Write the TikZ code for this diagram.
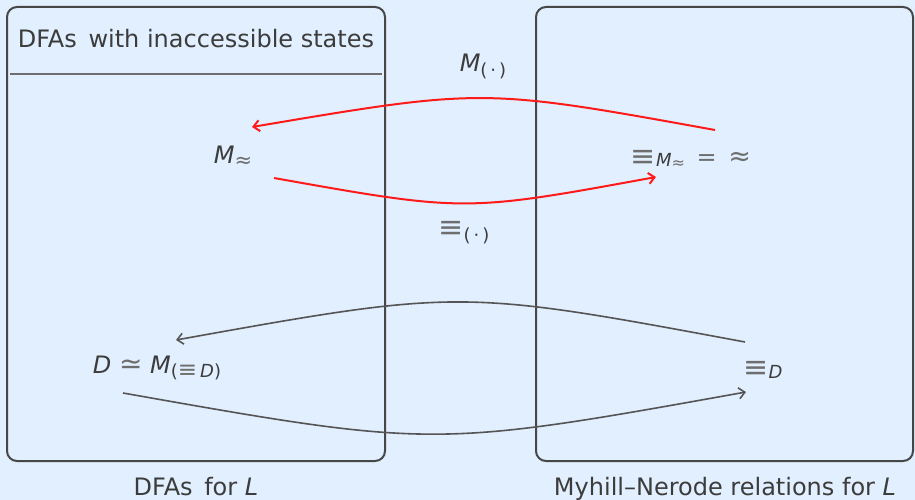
\documentclass[tikz,border=0pt]{standalone}
\usepackage{fontspec}
\setmainfont{DejaVu Sans}
\usetikzlibrary{arrows.meta}
\definecolor{bg}{HTML}{E1EFFE}
\definecolor{ink}{HTML}{3C3C3C}
\definecolor{rel}{HTML}{6E6E6E}
\definecolor{boxline}{HTML}{474747}
\definecolor{arrred}{HTML}{FF1A1A}
\definecolor{arrgray}{HTML}{555555}
\newcommand\mysub[2][-4pt]{\raisebox{#1}{\fontsize{18}{20}\selectfont #2}}
\newcommand\rl[1]{\textcolor{rel}{#1}}
\newcommand\bigeqv{\textcolor{rel}{\fontsize{30}{30}\selectfont ≡}}
\newcommand\subeqv{\textcolor{rel}{\fontsize{23}{23}\selectfont ≡}}
\newcommand\bigapx{\textcolor{rel}{\fontsize{27}{27}\selectfont ≈}}
\newcommand\subapx{\textcolor{rel}{\fontsize{21}{21}\selectfont ≈}}
\newcommand\bigsim{\textcolor{rel}{\fontsize{28}{28}\selectfont ≃}}
\begin{document}
\begin{tikzpicture}[x=1pt,y=-1pt,
  txt/.style={font=\fontsize{24}{28}\selectfont, text=ink, inner sep=0pt, anchor=base},
  panel/.style={draw=boxline, line width=2pt, rounded corners=10pt},
  redarr/.style={draw=arrred, line width=2pt, -{Straight Barb[length=6pt,width=11pt]}},
  grayarr/.style={draw=arrgray, line width=1.6pt, -{Straight Barb[length=6pt,width=11pt]}}]
\useasboundingbox (0,0) rectangle (915,500);
\fill[bg] (0,0) rectangle (915,500);
% panels
\draw[panel] (7,7) rectangle (385,461);
\draw[panel] (536,7) rectangle (913,461);
\draw[draw=rel, line width=1.2pt] (10,74) -- (382,74);
% texts
\node[txt] (title) at (196,48) {DFAs\, with inaccessible states};
\node[txt] (lblL) at (196,495) {DFAs\, for \textit{L}};
\node[txt] (lblR) at (725,495) {Myhill–Nerode relations for \textit{L}};
\node[txt] (mapprox) at (233,164) {\textit{M}\raisebox{-3pt}{\subapx}};
\node[txt] (eqm) at (691,165) {\raisebox{-1pt}{\bigeqv}\mysub[-1pt]{\textit{M}\raisebox{-2pt}{\fontsize{16}{16}\selectfont\rl{≈}}}\ \,\rl{=}\ \,\bigapx};
\node[txt] (dsim) at (157,373) {\textit{D}\ \bigsim\ \textit{M}\mysub{(\subeqv\,\textit{D})}};
\node[txt] (eqd) at (763,376) {\raisebox{-1pt}{\bigeqv}\mysub[-2pt]{\textit{D}}};
\node[txt] (lmtop) at (483,72) {\textit{M}\mysub[-5pt]{(\,·\,)}};
\node[txt] (lmbot) at (464,236) {\raisebox{-1pt}{\bigeqv}\mysub[-5pt]{(\,·\,)}};
% connector ends
\coordinate (a1) at (715,130);
\coordinate (a2) at (252,127);
\coordinate (b1) at (274,178);
\coordinate (b2) at (656,177);
\coordinate (c1) at (745,342);
\coordinate (c2) at (176,340);
\coordinate (d1) at (123,393);
\coordinate (d2) at (746,392);
\draw[redarr] (a1) .. controls (483,88) .. (a2);
\draw[redarr] (b1) .. controls (465,212) .. (b2);
\draw[grayarr] (c1) .. controls (460,289) .. (c2);
\draw[grayarr] (d1) .. controls (434,448) .. (d2);
\end{tikzpicture}
\end{document}
